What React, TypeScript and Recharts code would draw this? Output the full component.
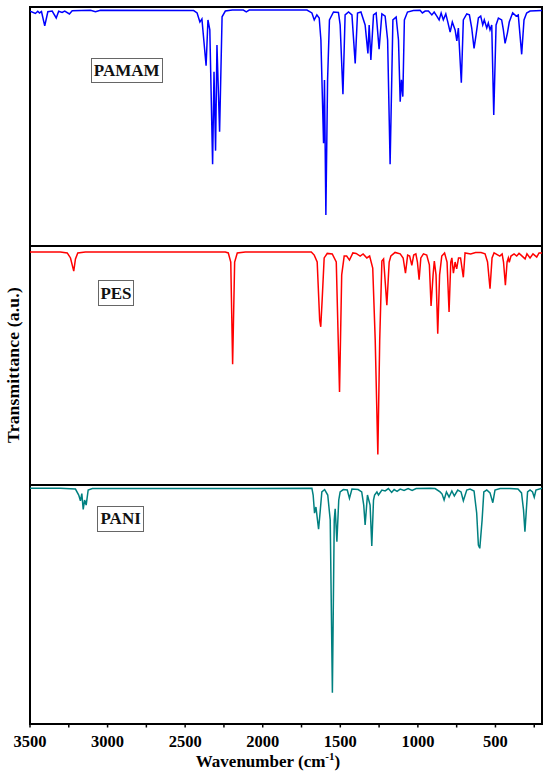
import React from "react";
import { LineChart, Line, XAxis, YAxis, ReferenceArea } from "recharts";

// [wavenumber (cm-1), transmittance (a.u., 0-100 within each panel)]
const PAMAM: [number, number][] = [
  [3500, 98.3], [3465, 97.3], [3450, 98.2], [3439, 97.5], [3426, 98.1], [3405, 92.1],
  [3385, 98.0], [3357, 98.3], [3331, 95.4], [3315, 98.2], [3293, 97.7], [3276, 98.3],
  [3246, 97.1], [3228, 98.4], [3110, 98.6], [3078, 98.0], [3046, 98.6], [2445, 98.5],
  [2423, 97.5], [2405, 93.7], [2392, 95.0], [2365, 75.4], [2353, 94.6], [2341, 90.4],
  [2323, 34.2], [2314, 72.9], [2304, 39.9], [2295, 84.1], [2278, 47.8], [2262, 95.9],
  [2241, 98.3], [2196, 98.7], [2125, 98.7], [2106, 98.0], [2087, 98.7], [1715, 98.7],
  [1683, 97.5], [1668, 94.6], [1651, 96.7], [1636, 95.4], [1625, 86.2], [1608, 43.0],
  [1602, 69.5], [1593, 13.0], [1582, 69.5], [1570, 94.6], [1544, 97.9], [1512, 97.7],
  [1501, 92.5], [1483, 63.5], [1469, 96.7], [1447, 97.9], [1425, 96.7], [1404, 76.4],
  [1389, 97.5], [1367, 97.9], [1340, 92.5], [1322, 80.6], [1314, 92.5], [1303, 77.8],
  [1286, 96.7], [1269, 97.5], [1250, 82.3], [1232, 97.1], [1211, 96.2], [1195, 86.2],
  [1179, 34.2], [1161, 94.6], [1140, 95.8], [1125, 86.2], [1114, 60.4], [1106, 69.5],
  [1097, 62.5], [1087, 94.6], [1067, 97.9], [1029, 98.5], [986, 98.6], [971, 97.5],
  [953, 98.3], [932, 98.3], [910, 96.7], [895, 97.9], [878, 96.2], [863, 94.6],
  [850, 97.5], [836, 94.6], [820, 97.1], [807, 93.7], [792, 89.5], [778, 93.7],
  [760, 90.4], [749, 85.8], [739, 91.2], [720, 68.3], [707, 94.6], [685, 97.1],
  [668, 96.7], [653, 91.2], [638, 82.7], [625, 88.3], [610, 95.4], [595, 96.2],
  [582, 92.5], [572, 94.6], [556, 91.2], [546, 93.3], [535, 90.4], [524, 92.5],
  [511, 54.8], [496, 92.5], [481, 95.4], [460, 94.6], [449, 90.4], [438, 84.8],
  [423, 89.1], [411, 93.7], [389, 97.6], [367, 96.2], [353, 96.7], [331, 80.2],
  [316, 94.6], [299, 97.5], [277, 98.3], [200, 98.5],
];

const PES: [number, number][] = [
  [3500, 97.5], [3304, 97.5], [3260, 97.1], [3239, 95.0], [3218, 89.5], [3207, 94.6],
  [3192, 97.1], [3143, 97.5], [2241, 97.5], [2222, 97.1], [2206, 93.3], [2194, 50.5],
  [2181, 93.3], [2164, 97.1], [2112, 97.5], [1687, 97.5], [1668, 96.2], [1649, 93.3],
  [1633, 69.0], [1626, 66.2], [1617, 77.4], [1604, 95.0], [1584, 96.9], [1552, 96.7],
  [1526, 93.3], [1505, 38.9], [1491, 87.9], [1475, 95.8], [1459, 95.8], [1441, 94.1],
  [1419, 97.1], [1398, 96.9], [1372, 95.8], [1353, 96.7], [1329, 95.0], [1311, 95.8],
  [1291, 90.8], [1275, 60.7], [1258, 12.8], [1246, 60.7], [1232, 93.7], [1221, 94.6],
  [1200, 75.2], [1185, 93.3], [1174, 95.8], [1147, 97.3], [1114, 96.7], [1095, 95.0],
  [1080, 88.6], [1066, 96.2], [1053, 95.8], [1039, 91.9], [1027, 96.2], [1013, 96.7],
  [1003, 93.3], [992, 85.9], [981, 95.0], [964, 96.7], [943, 96.2], [926, 92.1],
  [915, 74.9], [902, 87.9], [894, 93.7], [883, 87.9], [872, 63.3], [860, 87.9],
  [846, 95.8], [828, 97.1], [812, 93.3], [799, 72.4], [788, 93.3], [781, 95.0],
  [771, 88.6], [760, 93.3], [750, 90.4], [738, 95.0], [725, 95.0], [707, 86.9],
  [696, 97.1], [660, 96.7], [628, 97.3], [593, 97.3], [567, 96.7], [551, 93.3],
  [535, 82.1], [522, 95.0], [509, 97.1], [472, 95.8], [457, 96.7], [448, 93.3],
  [436, 83.6], [425, 93.3], [417, 95.0], [411, 93.2], [400, 95.8], [380, 96.7],
  [363, 95.8], [348, 96.9], [335, 96.2], [309, 94.6], [297, 96.7], [277, 95.0],
  [258, 96.7], [234, 95.4], [219, 97.1], [200, 97.1],
];

const PANI: [number, number][] = [
  [3500, 98.6], [3304, 98.6], [3207, 98.3], [3186, 95.8], [3175, 93.4], [3166, 96.4],
  [3157, 89.8], [3148, 93.7], [3138, 91.6], [3125, 97.9], [3098, 98.5], [1683, 98.6],
  [1675, 95.8], [1666, 88.2], [1657, 90.8], [1640, 81.5], [1629, 89.5], [1619, 97.1],
  [1601, 98.1], [1581, 95.8], [1565, 85.4], [1551, 13.1], [1539, 85.4], [1533, 90.0],
  [1522, 76.3], [1510, 93.7], [1501, 97.1], [1481, 98.1], [1455, 97.9], [1441, 94.4],
  [1425, 98.3], [1385, 98.1], [1362, 97.1], [1349, 91.6], [1340, 83.3], [1325, 95.8],
  [1308, 91.6], [1297, 74.5], [1286, 93.7], [1279, 95.8], [1264, 97.1], [1254, 95.8],
  [1232, 97.9], [1211, 97.5], [1190, 98.5], [1169, 96.9], [1153, 98.1], [1134, 97.3],
  [1114, 98.3], [1089, 97.7], [1063, 98.5], [1037, 97.7], [1011, 98.5], [921, 98.6],
  [889, 98.5], [857, 97.1], [844, 96.2], [831, 93.7], [816, 97.1], [799, 95.0],
  [781, 97.5], [765, 95.4], [743, 97.9], [722, 97.1], [707, 93.4], [685, 97.9],
  [664, 98.3], [638, 97.5], [621, 88.3], [610, 74.9], [601, 73.5], [586, 85.4],
  [575, 97.1], [556, 97.9], [535, 96.7], [517, 92.6], [503, 97.9], [470, 98.5],
  [406, 98.5], [355, 98.3], [332, 96.7], [319, 89.5], [310, 80.5], [301, 89.5],
  [293, 97.1], [277, 97.9], [261, 97.1], [250, 94.9], [239, 97.9], [200, 98.6],
];

const MAJOR_TICKS = [3500, 3000, 2500, 2000, 1500, 1000, 500];
const MINOR_TICKS = [3250, 2750, 2250, 1750, 1250, 750, 250];
const X_DOMAIN: [number, number] = [200, 3500];
const Y_DOMAIN: [number, number] = [0, 100];

const FONT = '"Liberation Serif", "Times New Roman", serif';
const PLOT_LEFT = 30;
const PLOT_RIGHT_MARGIN = 8;
const PANEL_H = 239;
const AXIS_H = 50;
const PAD = 4;

const toRows = (pts: [number, number][]) => pts.map(([wn, t]) => ({ wn, t }));

type PanelProps = {
  data: [number, number][];
  color: string;
  top: number;
  showAxis: boolean;
};

function Panel({ data, color, top, showAxis }: PanelProps) {
  const allTicks = [...MAJOR_TICKS, ...MINOR_TICKS].sort((a, b) => b - a);
  const height = PANEL_H + PAD + (showAxis ? AXIS_H : PAD);
  return (
    <div style={{ position: "absolute", left: 0, top: top - PAD, width: 550, height }}>
      <LineChart
        width={550}
        height={height}
        data={toRows(data)}
        margin={{ top: PAD, right: PLOT_RIGHT_MARGIN, bottom: showAxis ? 0 : PAD, left: PLOT_LEFT }}
      >
        <XAxis
          dataKey="wn"
          type="number"
          domain={X_DOMAIN}
          reversed
          allowDataOverflow
          hide={!showAxis}
          height={showAxis ? AXIS_H : 0}
          ticks={allTicks}
          tick={{ fontFamily: FONT, fontSize: 16.5, fontWeight: "bold", fill: "#000" }}
          tickFormatter={(v: number) => (v % 500 === 0 ? String(v) : "")}
          tickSize={3.5}
          tickMargin={7.5}
          tickLine={{ stroke: "#000", strokeWidth: 1.5 }}
          axisLine={false}
          interval={0}
        />
        <YAxis type="number" domain={Y_DOMAIN} hide width={0} />
        <Line
          type="linear"
          dataKey="t"
          stroke={color}
          strokeWidth={1.5}
          dot={false}
          activeDot={false}
          isAnimationActive={false}
        />
        <ReferenceArea
          x1={X_DOMAIN[1]}
          x2={X_DOMAIN[0]}
          y1={Y_DOMAIN[0]}
          y2={Y_DOMAIN[1]}
          fill="none"
          fillOpacity={0}
          stroke="#000"
          strokeWidth={2}
          strokeOpacity={1}
        />
      </LineChart>
    </div>
  );
}

const boxStyle = (left: number, top: number, width: number, height: number): React.CSSProperties => ({
  position: "absolute",
  left,
  top,
  width,
  height,
  boxSizing: "border-box",
  border: "1.5px solid #666",
  display: "flex",
  alignItems: "center",
  justifyContent: "center",
  fontFamily: FONT,
  fontWeight: "bold",
  fontSize: 17,
  color: "#111",
  lineHeight: 1,
  background: "#fff",
});

export default function App() {
  return (
    <div
      style={{
        position: "absolute",
        left: 0,
        top: 0,
        width: 550,
        height: 777,
        background: "#fff",
        overflow: "hidden",
      }}
    >
      <Panel data={PAMAM} color="#0000FF" top={7} showAxis={false} />
      <Panel data={PES} color="#FF0000" top={246} showAxis={false} />
      <Panel data={PANI} color="#008080" top={485} showAxis={true} />

      <div style={boxStyle(90.7, 58.3, 72, 25)}>PAMAM</div>
      <div style={boxStyle(97.7, 280.3, 36.6, 25.7)}>PES</div>
      <div style={boxStyle(97.3, 506, 46.7, 25.7)}>PANI</div>

      <div
        style={{
          position: "absolute",
          left: 14,
          top: 365,
          transform: "translate(-50%, -50%) rotate(-90deg)",
          whiteSpace: "nowrap",
          fontFamily: FONT,
          fontWeight: "bold",
          fontSize: 17.5,
          letterSpacing: 0.2,
          color: "#000",
          lineHeight: 1,
        }}
      >
        Transmittance (a.u.)
      </div>

      <div
        style={{
          position: "absolute",
          left: 268,
          top: 753,
          transform: "translateX(-50%)",
          whiteSpace: "nowrap",
          fontFamily: FONT,
          fontWeight: "bold",
          fontSize: 17,
          color: "#000",
          lineHeight: 1,
        }}
      >
        Wavenumber (cm<sup style={{ fontSize: 11, lineHeight: 0 }}>-1</sup>)
      </div>
    </div>
  );
}
